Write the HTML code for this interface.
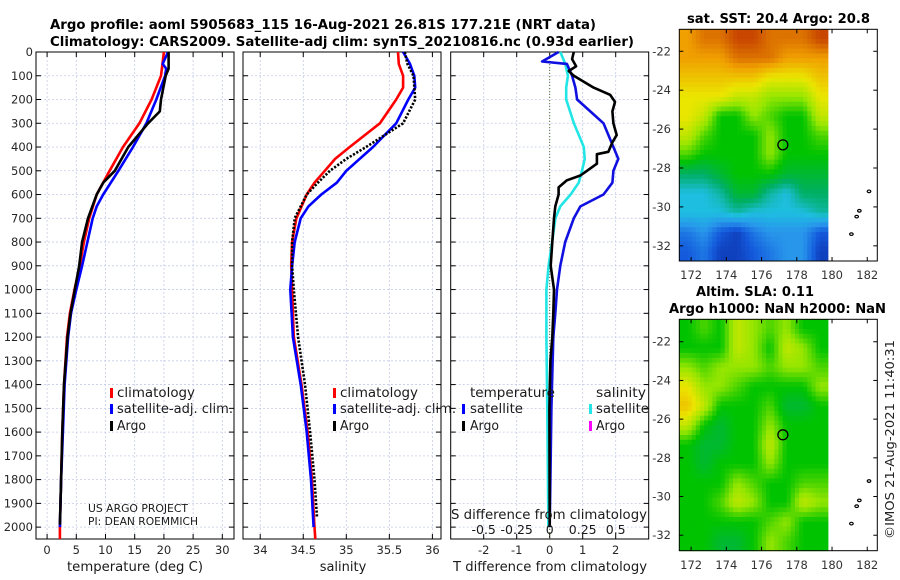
<!DOCTYPE html>
<html><head><meta charset="utf-8"><style>
html,body{margin:0;padding:0;background:#fff;}
svg{display:block;font-family:"DejaVu Sans","Liberation Sans",sans-serif;}
</style></head><body>
<svg id="fig" width="900" height="580" viewBox="0 0 900 580" xmlns="http://www.w3.org/2000/svg">
<rect x="0" y="0" width="900" height="580" fill="#fff"/>
<text x="50" y="29" font-size="13" font-weight="bold" textLength="546" lengthAdjust="spacingAndGlyphs">Argo profile: aoml 5905683_115 16-Aug-2021 26.81S 177.21E (NRT data)</text>
<text x="50" y="46" font-size="13" font-weight="bold" textLength="584" lengthAdjust="spacingAndGlyphs">Climatology: CARS2009. Satellite-adj clim: synTS_20210816.nc (0.93d earlier)</text>
<text x="687" y="23" font-size="13" font-weight="bold" textLength="183" lengthAdjust="spacingAndGlyphs">sat. SST: 20.4 Argo: 20.8</text>
<text x="696" y="296" font-size="13" font-weight="bold" textLength="118" lengthAdjust="spacingAndGlyphs">Altim. SLA: 0.11</text>
<text x="669" y="313" font-size="13" font-weight="bold" textLength="217" lengthAdjust="spacingAndGlyphs">Argo h1000: NaN h2000: NaN</text>
<text transform="translate(894,539) rotate(-90)" font-size="12.5" fill="#222" textLength="199" lengthAdjust="spacingAndGlyphs">©IMOS 21-Aug-2021 11:40:31</text>
</svg>
<script>
// ---------- DATA ----------
const tClimDepth = [0,100,200,300,400,500,600,700,800,900,1000,1100,1200,1400,1600,1800,2000,2050];
const tClimVal   = [20.0,19.5,17.9,15.8,13.0,10.7,8.5,7.2,6.3,5.6,4.7,3.9,3.4,2.9,2.6,2.4,2.2,2.2];
const tSatDepth  = [0,50,70,100,200,300,400,500,600,650,700,800,900,1000,1100,1200,1400,1600,1800,2000];
const tSatVal    = [20.7,19.8,20.4,20.2,18.7,17.0,14.7,12.2,9.6,8.5,7.8,6.9,6.0,5.0,4.1,3.6,3.0,2.7,2.4,2.2];
const tArgoDepth = [0,70,100,200,250,300,400,500,550,600,700,800,900,1000,1100,1200,1400,1600,1800,1990];
const tArgoVal   = [20.8,20.8,20.3,19.5,19.3,17.3,13.9,11.6,9.6,8.5,7.0,6.0,5.5,4.75,4.0,3.5,2.9,2.6,2.4,2.2];

const sClimDepth = [0,50,100,150,200,300,400,450,500,550,600,700,800,900,1000,1200,1400,1600,1800,2000,2050];
const sClimVal   = [35.60,35.61,35.66,35.66,35.58,35.39,35.04,34.87,34.75,34.63,34.54,34.42,34.37,34.36,34.37,34.39,34.48,34.55,34.60,34.63,34.64];
const sSatDepth  = [0,50,100,150,200,300,400,500,550,600,650,700,800,900,1000,1200,1400,1600,1800,2000];
const sSatVal    = [35.66,35.74,35.79,35.80,35.72,35.58,35.31,35.00,34.89,34.71,34.56,34.47,34.40,34.37,34.35,34.38,34.47,34.54,34.59,34.62];
const sArgoDepth = [0,50,100,200,300,400,450,500,550,600,700,800,900,1000,1200,1400,1600,1800,1960];
const sArgoVal   = [35.68,35.71,35.78,35.80,35.66,35.23,35.00,34.81,34.67,34.54,34.40,34.37,34.37,34.39,34.44,34.52,34.58,34.63,34.66];

const dTSatDepth  = [0,40,50,100,150,200,250,300,400,450,500,550,600,650,700,800,900,1000,1100,1200,1500,2000];
const dTSatVal    = [0.27,-0.23,0.52,0.68,0.78,0.83,1.23,1.63,1.93,2.08,1.93,1.90,1.63,0.93,0.73,0.47,0.32,0.22,0.17,0.11,0.05,0.0];
const dSSatDepth  = [0,50,100,150,200,300,400,450,500,550,600,650,700,800,900,1000,1200,1500,2000];
const dSSatVal    = [0.08,0.118,0.138,0.125,0.125,0.183,0.258,0.265,0.245,0.22,0.158,0.08,0.043,0.018,-0.008,-0.025,-0.025,-0.018,-0.01];
const dTArgoDepth = [0,30,60,80,100,150,180,210,250,300,350,380,420,430,470,500,520,540,570,600,650,700,800,900,1000,1100,1200,1300,1500,2000];
const dTArgoVal   = [0.73,0.68,0.80,0.58,0.73,1.33,1.83,1.98,1.90,1.93,2.03,1.90,1.78,1.43,1.43,1.13,0.93,0.52,0.27,0.27,0.17,0.13,0.08,0.03,0.13,0.11,0.08,0.02,-0.01,0.0];

const depthTicks = [0,100,200,300,400,500,600,700,800,900,1000,1100,1200,1300,1400,1500,1600,1700,1800,1900,2000];
const tTicks = [0,5,10,15,20,25,30];
const sTicks = [34,34.5,35,35.5,36];
const dTTicks = [-2,-1,0,1,2];
const dSTicks = [-0.5,-0.25,0,0.25,0.5];
const dSTickLabels = ['-0.5','-0.25','0','0.25','0.5'];
const lonTicks = [172,174,176,178,180,182];
const latTicks = [-22,-24,-26,-28,-30,-32];

// SST map (colour index 0..9), rows north->south, cols west->east
const sstGrid = [
 [8,8.5,8.5,9,9,8.5,8.5,8.5,9],
 [8,8,8,8.5,8.5,8.5,8,8,8],
 [7.5,7.5,7.5,7.5,7.5,7,7,7,7.5],
 [7,7,7,6.5,6.5,6,6,6,7],
 [7,6.5,5,5,6,5.5,5,5,6.5],
 [6.5,5.5,5,5,5,6,5,5,5.5],
 [5.5,5,5,5,5,6,5,5,5],
 [4,4,4.5,5,5,5,4.5,4.5,4.5],
 [3,3,3.5,4.5,4.5,3.5,3,4,4],
 [3,3,3,3.5,3,3,3,3,3.5],
 [1.5,2,1,0.5,1.5,2,2,2,1],
 [1,1.5,0.5,0.5,1,1.5,2,2,0.5]
];
const slaGrid = [
 [5,5.5,5,6.5,6,5.5,6,5,5],
 [5,5,5,6.5,6,5,6.5,6,5],
 [6,5.5,6,6,6,5.5,6,6,5.5],
 [7,6,6,5.5,5,5,5,5,6],
 [7.5,6.5,5,5,5,5.5,4.5,4.5,5],
 [6.5,5,4.5,5,5,6,5,5,5],
 [5,4.5,4.5,5,5,6.5,5,5,5],
 [5,4.5,5,5,5,6,5,5,5],
 [5,5,5,6,5.5,5,5,5.5,5.5],
 [5,5,5.5,6.5,6,5,5,6.5,6],
 [5,5,5,5,5,5.5,6,5,5],
 [5,5,4.5,4.5,5,6,5.5,5,5]
];
const islandLon = [181.1,181.4,181.55,182.1];
const islandLat = [-31.4,-30.5,-30.2,-29.2];
const argoLon = 177.21, argoLat = -26.81;

// ---------- HELPERS ----------
const NS='http://www.w3.org/2000/svg';
const svg=document.getElementById('fig');
function mk(tag,attrs,parent){const e=document.createElementNS(NS,tag);for(const k in attrs)e.setAttribute(k,attrs[k]);(parent||svg).appendChild(e);return e;}
const cmapStops=[[10,40,160],[20,90,220],[40,150,235],[30,190,225],[0,175,100],[0,195,0],[150,230,0],[235,230,0],[240,160,0],[200,70,0]];
function cmap(v){v=Math.max(0,Math.min(9,v));const i=Math.min(8,Math.floor(v));const f=v-i;const a=cmapStops[i],b=cmapStops[i+1];
 return 'rgb('+a.map((c,j)=>Math.round(c+(b[j]-c)*f)).join(',')+')';}

const Y0=52, YB=539, DMAX=2050;
const yD=d=>Y0+d*(YB-Y0)/DMAX;

function panel(name,x0,x1,xmin,xmax,ticks,labels){
 const xs=v=>x0+(v-xmin)*(x1-x0)/(xmax-xmin);
 const g=mk('g',{});
 
 
 for(const d of depthTicks){const l=mk('line',{x1:x0,x2:x1,y1:yD(d),y2:yD(d),stroke:'#c5cbe8','stroke-width':0.8,'stroke-dasharray':'2,2'},g);
  
  }
 ticks.forEach((t,i)=>{const l=mk('line',{x1:xs(t),x2:xs(t),y1:Y0,y2:YB,stroke:'#c5cbe8','stroke-width':0.8,'stroke-dasharray':'2,2'},g);
  
  
  mk('line',{x1:xs(t),x2:xs(t),y1:YB,y2:YB-5,stroke:'#000'},g);
  mk('line',{x1:xs(t),x2:xs(t),y1:Y0,y2:Y0+5,stroke:'#000'},g);
  const tx=mk('text',{x:xs(t),y:554,'font-size':11.5,fill:'#262626','text-anchor':'middle'},g);tx.textContent=labels?labels[i]:String(t);
  
  });
 for(const d of depthTicks){mk('line',{x1:x0,x2:x0+5,y1:yD(d),y2:yD(d),stroke:'#000'},g);mk('line',{x1:x1,x2:x1-5,y1:yD(d),y2:yD(d),stroke:'#000'},g);}
 const b=mk('rect',{x:x0,y:Y0,width:x1-x0,height:YB-Y0,fill:'none',stroke:'#000','stroke-width':1},g);
 
 
 return {xs,g};
}
function series(p,depths,vals,color,name,dash,scale){
 const pts=depths.map((d,i)=>p.xs(vals[i]*(scale||1)).toFixed(1)+','+yD(d).toFixed(1)).join(' ');
 const l=mk('polyline',{points:pts,fill:'none',stroke:color,'stroke-width':2.6,'stroke-linejoin':'round'},p.g);
 if(dash)l.setAttribute('stroke-dasharray',dash);
 
 
}
function txt(x,y,s,size,name,len,anchor){const t=mk('text',{x:x,y:y,'font-size':size,fill:'#1a1a1a'});
 if(len){t.setAttribute('textLength',len);t.setAttribute('lengthAdjust','spacingAndGlyphs');}
 if(anchor)t.setAttribute('text-anchor',anchor);t.textContent=s;
 
 
 return t;}
function marker(x,y,color){const r=mk('rect',{x:x,y:y-9,width:3,height:10,fill:color});
 
 }

// ---------- PANEL 1: temperature ----------
const p1=panel('temperature-panel',36,234,-1.9,32,tTicks);
series(p1,tClimDepth,tClimVal,'#ff0000','temp-climatology-line');
series(p1,tSatDepth,tSatVal,'#0000ff','temp-satellite-line');
series(p1,tArgoDepth,tArgoVal,'#000000','temp-argo-line');
for(const d of depthTicks){const t=mk('text',{x:33,y:yD(d)+4,'font-size':11.5,fill:'#262626','text-anchor':'end'});t.textContent=String(d);
 
 }
txt(135,571,'temperature (deg C)',13,'temperature-axis-title',136,'middle');
marker(110,397,'#ff0000');txt(117,397,'climatology',13,'legend-climatology',78);
marker(110,413,'#0000ff');txt(117,413,'satellite-adj. clim.',13,'legend-satellite-adj',116);
marker(110,430,'#000000');txt(117,430,'Argo',13,'legend-argo',29);
txt(88,512,'US ARGO PROJECT',11,'project-label',100);
txt(88,525,'PI: DEAN ROEMMICH',11,'pi-label',110);

// ---------- PANEL 2: salinity ----------
const p2=panel('salinity-panel',243,441,33.8,36.1,sTicks);
series(p2,sClimDepth,sClimVal,'#ff0000','sal-climatology-line');
series(p2,sSatDepth,sSatVal,'#0000ff','sal-satellite-line');
series(p2,sArgoDepth,sArgoVal,'#000000','sal-argo-line','2.2,1.6');
txt(343,571,'salinity',13,'salinity-axis-title',null,'middle');
marker(333,397,'#ff0000');txt(340,397,'climatology',13,'legend-climatology',78);
marker(333,413,'#0000ff');txt(340,413,'satellite-adj. clim.',13,'legend-satellite-adj',116);
marker(333,430,'#000000');txt(340,430,'Argo',13,'legend-argo',29);

// ---------- PANEL 3: differences ----------
const p3=panel('difference-panel',450.7,648.7,-3,3,dTTicks);
const zl=mk('line',{x1:p3.xs(0),x2:p3.xs(0),y1:Y0,y2:YB,stroke:'#556b2f','stroke-width':1,'stroke-dasharray':'1,2'},p3.g);


series(p3,dSSatDepth,dSSatVal,'#22e5e5','sal-diff-satellite-line',null,4);
series(p3,dTSatDepth,dTSatVal,'#1010e0','temp-diff-satellite-line');
series(p3,dTArgoDepth,dTArgoVal,'#000000','temp-diff-argo-line');
txt(550,571,'T difference from climatology',13,'t-diff-axis-title',194,'middle');
txt(549,519,'S difference from climatology',13,'s-diff-axis-title',196,'middle');
dSTicks.forEach((s,i)=>{txt(p3.xs(s*4),534,dSTickLabels[i],12.5,'s-diff-tick-label',null,'middle');});
txt(470,397,'temperature',13,'legend-temperature-header',85);
marker(462,413,'#0000ff');txt(470,413,'satellite',13,'legend-t-satellite',53);
marker(462,430,'#000000');txt(470,430,'Argo',13,'legend-t-argo',29);
txt(596,397,'salinity',13,'legend-salinity-header',50);
marker(589,413,'#22e5e5');txt(596,413,'satellite',13,'legend-s-satellite',53);
marker(589,430,'#ff00ff');txt(596,430,'Argo',13,'legend-s-argo',29);

// ---------- MAPS ----------
function sample(grid,fr,fc){
 const rows=grid.length,cols=grid[0].length;
 fr=Math.max(0,Math.min(rows-1,fr));fc=Math.max(0,Math.min(cols-1,fc));
 const r0=Math.floor(fr),c0=Math.floor(fc),r1=Math.min(rows-1,r0+1),c1=Math.min(cols-1,c0+1);
 const a=fr-r0,b=fc-c0;
 return (grid[r0][c0]*(1-b)+grid[r0][c1]*b)*(1-a)+(grid[r1][c0]*(1-b)+grid[r1][c1]*b)*a;
}
function map(name,grid,top,bottom,latTop,latBot,lblY){
 const L=679.3,R=877.3,lonL=171.33,lonR=182.57,imgR=179.77;
 const xs=v=>L+(v-lonL)*(R-L)/(lonR-lonL);
 const ys=v=>top+(latTop-v)*(bottom-top)/(latTop-latBot);
 const g=mk('g',{});
 
 
 const rows=grid.length,cols=grid[0].length,SUB=4;
 const x0=L,x1=xs(imgR);
 const cw=(x1-x0)/(cols*SUB), ch=(bottom-top)/(rows*SUB);
 for(let r=0;r<rows*SUB;r++)for(let c=0;c<cols*SUB;c++){
  const v=sample(grid,(r+0.5)/SUB-0.5,(c+0.5)/SUB-0.5);
  const cell=mk('rect',{x:(x0+c*cw).toFixed(2),y:(top+r*ch).toFixed(2),width:(cw+0.4).toFixed(2),height:(ch+0.4).toFixed(2),fill:cmap(v)},g);
  
  
 }
 islandLon.forEach((lo,i)=>{const e=mk('ellipse',{cx:xs(lo),cy:ys(islandLat[i]),rx:1.8,ry:1.3,fill:'none',stroke:'#000','stroke-width':1.2},g);
  
  });
 const ci=mk('circle',{cx:xs(argoLon),cy:ys(argoLat),r:5,fill:'none',stroke:'#000','stroke-width':1.3},g);
 
 
 lonTicks.forEach(t=>{mk('line',{x1:xs(t),x2:xs(t),y1:bottom,y2:bottom-4,stroke:'#000'},g);mk('line',{x1:xs(t),x2:xs(t),y1:top,y2:top+4,stroke:'#000'},g);
  const tx=mk('text',{x:xs(t),y:lblY,'font-size':11.5,fill:'#333','text-anchor':'middle'},g);tx.textContent=String(t);
  
  });
 latTicks.forEach(t=>{mk('line',{x1:L,x2:L+4,y1:ys(t),y2:ys(t),stroke:'#000'},g);mk('line',{x1:R,x2:R-4,y1:ys(t),y2:ys(t),stroke:'#000'},g);
  const tx=mk('text',{x:671,y:ys(t)+4,'font-size':11.5,fill:'#333','text-anchor':'end'},g);tx.textContent=String(t);
  
  });
 const b=mk('rect',{x:L,y:top,width:R-L,height:bottom-top,fill:'none',stroke:'#000','stroke-width':1},g);
 
 
}
map('sst-map',sstGrid,29.3,261,-20.87,-32.78,279);
map('sla-map',slaGrid,319.3,550.7,-20.84,-32.8,569);
</script>
</body></html>
